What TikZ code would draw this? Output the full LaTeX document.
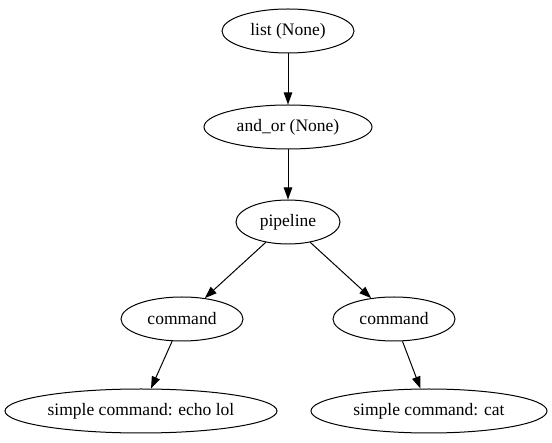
\documentclass[tikz,border=0pt]{standalone}
\usepackage{fontspec}
\setmainfont{Liberation Serif}
\usetikzlibrary{shapes.geometric,arrows.meta}
\begin{document}
\begin{tikzpicture}[x=1pt,y=-1pt,
  nd/.style={draw,ellipse,line width=1pt,inner sep=0pt,minimum height=44pt,font=\fontsize{17.5}{20}\selectfont},
  ar/.style={line width=1pt,-{Triangle[length=12pt,width=8.5pt]}}]
\useasboundingbox (0,0) rectangle (552,443);
\node[nd,minimum width=132pt] (list) at (288,31) {list (None)};
\node[nd,minimum width=168pt] (andor) at (288,127) {and\_or (None)};
\node[nd,minimum width=104pt] (pipe) at (288,222) {pipeline};
\node[nd,minimum width=122pt] (cmdl) at (182,319) {command};
\node[nd,minimum width=122pt] (cmdr) at (394,319) {command};
\node[nd,minimum width=272pt] (scl) at (141,411) {simple command: echo lol};
\node[nd,minimum width=236pt] (scr) at (429,411) {simple command: cat};
\draw[ar] (list) -- (andor);
\draw[ar] (andor) -- (pipe);
\draw[ar] (pipe) -- (cmdl);
\draw[ar] (pipe) -- (cmdr);
\draw[ar] (cmdl) -- (scl);
\draw[ar] (cmdr) -- (scr);
\end{tikzpicture}
\end{document}
